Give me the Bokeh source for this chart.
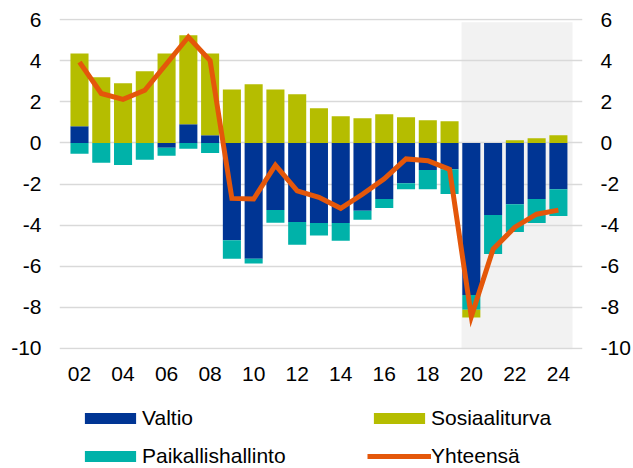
import numpy as np
from bokeh.plotting import figure
from bokeh.layouts import column
from bokeh.models import (FixedTicker, LinearAxis, Range1d, BoxAnnotation, Legend, LegendItem,
                          ColumnDataSource)
from bokeh.embed import file_html
from bokeh.resources import INLINE

# ---- data ----
years = list(range(2, 25))
tick_years = list(range(2, 25, 2))
tick_labels = ["02", "04", "06", "08", "10", "12", "14", "16", "18", "20", "22", "24"]
y_ticks = [-10, -8, -6, -4, -2, 0, 2, 4, 6]
y_tick_labels = ["-10", "-8", "-6", "-4", "-2", "0", "2", "4", "6"]

valtio = [0.81, 0.0, 0.0, 0.0, -0.24, 0.91, 0.37, -4.73, -5.63, -3.27, -3.85, -3.90,
          -3.90, -3.30, -2.73, -1.96, -1.32, -1.28, -7.40, -3.51, -2.98, -2.73, -2.25]
paikallishallinto = [-0.53, -0.97, -1.07, -0.82, -0.39, -0.29, -0.49, -0.90, -0.24, -0.61,
                     -1.10, -0.61, -0.86, -0.44, -0.44, -0.29, -0.93, -1.21, -0.72, -1.89,
                     -1.36, -1.17, -1.31]
sosiaaliturva = [3.54, 3.19, 2.90, 3.48, 4.35, 4.32, 3.98, 2.60, 2.85, 2.60, 2.36, 1.68,
                 1.30, 1.20, 1.39, 1.25, 1.10, 1.05, -0.37, 0.0, 0.13, 0.23, 0.37]
yhteensa = [3.93, 2.40, 2.12, 2.56, 3.85, 5.15, 4.00, -2.70, -2.73, -1.08, -2.33, -2.65,
            -3.18, -2.50, -1.75, -0.78, -0.87, -1.29, -8.45, -5.17, -4.10, -3.47, -3.27]
forecast_years = [20, 24]

C_VALTIO = "#003594"
C_PAIK = "#00b2a9"
C_SOS = "#b5bd00"
C_LINE = "#e4570a"
FONT = "Liberation Sans"
FS = "21px"

# stacked sources (positive parts stack upward, negative parts downward)
pos_base = np.zeros(len(years))
neg_base = np.zeros(len(years))
sources = {}
for name, vals in [("Valtio", valtio), ("Paikallishallinto", paikallishallinto),
                   ("Sosiaaliturva", sosiaaliturva)]:
    v = np.array(vals, dtype=float)
    bottom = np.where(v >= 0, pos_base, neg_base)
    top = bottom + v
    pos_base = np.where(v >= 0, top, pos_base)
    neg_base = np.where(v < 0, top, neg_base)
    sources[name] = ColumnDataSource(dict(x=years, bottom=bottom, top=top))
line_src = ColumnDataSource(dict(x=years, y=yhteensa))
colors = {"Valtio": C_VALTIO, "Paikallishallinto": C_PAIK, "Sosiaaliturva": C_SOS}

p = figure(width=633, height=398, x_range=Range1d(1.081, 25.107), y_range=Range1d(-10.05, 6.05),
           output_backend="svg", toolbar_location=None,
           min_border_left=59, min_border_right=51, min_border_top=18, min_border_bottom=49)
p.outline_line_color = None
p.xgrid.visible = False
p.ygrid.visible = False

shade = BoxAnnotation(left=forecast_years[0] - 0.45, right=forecast_years[1] + 0.65, top=5.87,
                      fill_color="#f2f2f2", fill_alpha=1.0, line_alpha=0, level="underlay")
p.add_layout(shade)

p.hspan(y=y_ticks, line_color="#d9d9d9", line_width=1.5)

for name in ["Valtio", "Paikallishallinto", "Sosiaaliturva"]:
    p.vbar(x="x", width=0.83, bottom="bottom", top="top", source=sources[name],
           fill_color=colors[name], line_color=None)

p.line("x", "y", source=line_src, line_color=C_LINE, line_width=5, line_join="miter")


def style_axis(ax):
    ax.axis_line_color = None
    ax.major_tick_line_color = None
    ax.minor_tick_line_color = None
    ax.major_tick_out = 0
    ax.major_tick_in = 0
    ax.minor_tick_out = 0
    ax.minor_tick_in = 0
    ax.major_label_text_font = FONT
    ax.major_label_text_font_size = FS
    ax.major_label_text_color = "#000000"


p.xaxis.ticker = FixedTicker(ticks=tick_years)
p.xaxis.major_label_overrides = {t: l for t, l in zip(tick_years, tick_labels)}
style_axis(p.xaxis[0])
p.xaxis.major_label_standoff = 17

y_over = {t: l for t, l in zip(y_ticks, y_tick_labels)}
p.yaxis.ticker = FixedTicker(ticks=y_ticks)
p.yaxis.major_label_overrides = y_over
style_axis(p.yaxis[0])
p.yaxis.major_label_standoff = 18

rax = LinearAxis(ticker=FixedTicker(ticks=y_ticks), major_label_overrides=y_over)
style_axis(rax)
rax.major_label_standoff = 18
p.add_layout(rax, "right")

# ---- legend panel (same sources; its ranges keep the marks themselves out of view) ----
lf = figure(width=633, height=70, x_range=Range1d(100, 101), y_range=Range1d(100, 101),
            output_backend="svg", toolbar_location=None,
            min_border_left=0, min_border_right=0, min_border_top=0, min_border_bottom=0)
lf.outline_line_color = None
lf.axis.visible = False
lf.grid.visible = False
lr = {}
for name in ["Valtio", "Paikallishallinto", "Sosiaaliturva"]:
    lr[name] = lf.vbar(x="x", width=0.83, bottom="bottom", top="top", source=sources[name],
                       fill_color=colors[name], line_color=None)
ll = lf.line("x", "y", source=line_src, line_color=C_LINE, line_width=5)

legend = Legend(items=[LegendItem(label="Valtio", renderers=[lr["Valtio"]]),
                       LegendItem(label="Sosiaaliturva", renderers=[lr["Sosiaaliturva"]]),
                       LegendItem(label="Paikallishallinto", renderers=[lr["Paikallishallinto"]]),
                       LegendItem(label="Yhteensä", renderers=[ll])],
                location=(19, 0), orientation="horizontal", ncols=2,
                border_line_color=None, background_fill_alpha=0, padding=0, margin=0,
                spacing=14, glyph_width=64, glyph_height=14, label_standoff=-1, label_width=211,
                label_text_font=FONT, label_text_font_size=FS, label_text_color="#000000")
lf.add_layout(legend)

layout = column(p, lf, spacing=0)
open("out.html", "w").write(file_html(layout, INLINE))
